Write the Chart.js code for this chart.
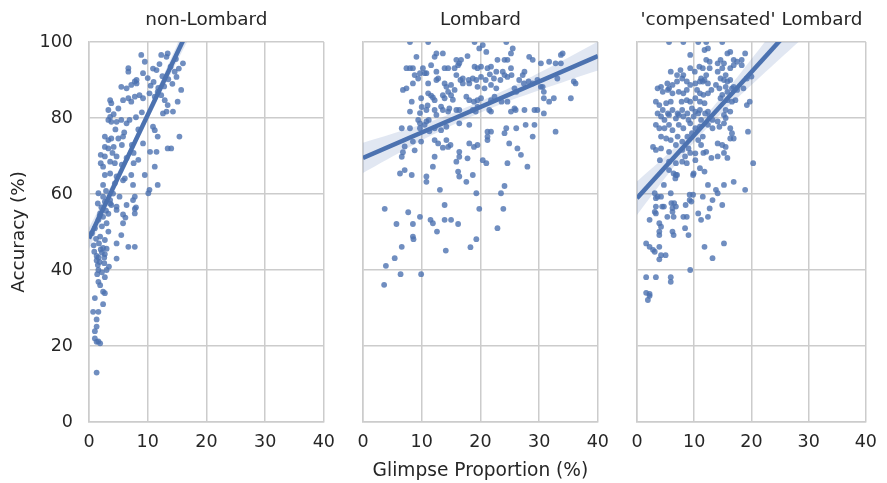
<!DOCTYPE html>
<html>
<head>
<meta charset="utf-8">
<script src="https://cdn.jsdelivr.net/npm/chart.js@4.4.1/dist/chart.umd.min.js"></script>
<style>
  body { margin: 0; background: #fff; width: 887px; height: 483px; position: relative; overflow: hidden; }
  canvas { position: absolute; top: 0; }
</style>
</head>
<body>
<canvas id="c1" width="345" height="483" style="left:0px"></canvas>
<canvas id="c2" width="276" height="483" style="left:343px"></canvas>
<canvas id="c3" width="270" height="483" style="left:617px"></canvas>
<script>
// panel titles and tick values
const panelTitles = ["non-Lombard", "Lombard", "'compensated' Lombard"];
const xTicks = [0, 10, 20, 30, 40];
const yTicks = [0, 20, 40, 60, 80, 100];

// glimpse proportion (%) , accuracy (%) per listener/sentence
const nonLombard = [
  [8.9,96.6],[9.5,94.8],[12.3,96.6],[13.2,96.1],[13.4,97],[16.0,94.4],[6.7,93.1],[6.7,92.2],[10.9,93],[11.5,92.6],
  [14.6,92.2],[9.2,91.8],[10.0,90.5],[11.0,89.5],[12.5,91],[13.5,90.2],[14.2,89],[7.8,89.6],[8.1,90.0],[5.5,88.2],
  [6.4,87.8],[7.2,88.7],[8.1,89.1],[10.5,88.5],[11.8,87.9],[12.8,88.3],[15.7,87.4],[3.6,84.7],[3.8,83.9],[5.8,84.7],
  [6.7,85.2],[7.2,84.3],[7.8,85.6],[8.6,86],[9.2,85.2],[10.3,86.5],[11.2,85.6],[11.7,86.9],[12.3,86],[12.9,84.7],
  [13.4,83.4],[14.3,81.7],[15.1,84.3],[3.3,82.1],[3.6,80.3],[3.3,79.5],[3.8,79],[4.7,79],[5.5,79.5],[6.4,78.6],
  [6.9,79.5],[4.2,81],[5.0,82.5],[8.0,80.2],[9.0,81.5],[4.5,77],[6.0,76.2],[8.4,77],[10.9,77.7],[11.2,76.8],
  [12.6,81.2],[13.2,81.7],[15.4,75.1],[11.7,75.1],[2.7,75.1],[3.3,74.2],[3.8,74.6],[5.0,74.6],[5.8,75.1],[2.7,72.4],
  [3.3,72],[4.2,72.4],[5.6,72.9],[7.3,72.9],[9.2,73.3],[2.0,70.3],[2.7,69.9],[4.0,70.8],[4.7,69.9],[6.4,69.5],
  [7.6,70.8],[10.4,71.1],[11.5,71.1],[13.4,72],[14.0,72],[2.0,68.1],[2.4,67.2],[3.6,68.5],[4.4,68.1],[5.6,67.7],
  [7.6,68.1],[8.4,69],[11.2,67.2],[2.7,65],[3.6,65.4],[4.7,64.6],[6.1,64.1],[7.2,65],[9.5,65],[2.4,62.4],
  [4.4,62.8],[5.8,63.6],[7.5,62.4],[11.7,62.4],[10.1,60.2],[10.3,61.1],[1.6,60.2],[2.4,59.3],[3.6,58.4],[3.8,57.1],
  [5.2,59.3],[6.4,57.1],[7.8,59.3],[8.0,56.5],[2.1,56.5],[2.9,55.6],[3.3,54.8],[4.7,55.8],[5.8,54.6],[7.8,56.1],
  [1.5,57.5],[1.8,54.2],[6.2,53.8],[2.7,58],[3.6,57.5],[4.7,56.7],[7.5,58.4],[1.9,54.9],[1.6,53.2],[2.4,54],
  [3.0,52.3],[3.3,50.1],[7.8,54.9],[5.8,52.3],[0.5,49.7],[1.0,51],[1.9,48.8],[5.5,49.2],[2.7,47.9],[4.7,47],
  [6.7,46.1],[7.8,46.1],[1.7,47],[2.0,45.4],[2.2,44.6],[2.4,45.8],[2.7,44.2],[3.0,45.6],[1.3,43.7],[1.6,43.3],
  [2.6,43.3],[1.3,42.5],[1.8,42.1],[4.7,43],[1.5,41.3],[2.6,41.8],[3.4,40.9],[3.0,40],[1.6,40],[2.7,38.1],
  [1.6,36.9],[1.9,36],[2.4,34.3],[2.7,33.9],[1.0,32.6],[2.4,31],[0.7,29],[1.6,29],[1.3,27],[1.3,25.1],
  [1.0,23.9],[1.0,22],[1.3,21.1],[1.9,20.7],[1.6,21.2],[1.3,13],[14.8,95.5],[15.3,93],[12.0,94.2],[13.9,93.5],
  [14.9,90.8],[0.8,46.5],[1.2,48.2],[0.9,44.8],[2.2,51.5],[2.9,60.8],[4.1,60.1],[1.4,38.9],[2.2,39.4]
];

const lombard = [
  [8.0,100],[11.1,100],[19.0,100],[24.4,100],[20.4,99.2],[19.8,98.3],[21.0,97.4],[25.5,98.3],[25.2,97],[12.5,97],
  [13.6,97],[12.2,96.1],[9.1,96.1],[17.8,96.3],[15.9,95.3],[16.7,95.3],[16.4,94.4],[22.9,95.3],[24.1,95.3],[24.6,95.3],
  [28.3,96.1],[28.9,95.3],[30.3,94.4],[31.7,94.8],[32.8,94.4],[33.7,94.4],[33.7,96.6],[34.0,97],[7.4,93.1],[8.0,93.1],
  [8.5,93.1],[10.2,93.1],[10.8,91.8],[11.6,93.9],[13.9,93.1],[14.5,93.1],[15.6,93.1],[16.2,93.9],[19.0,93.5],[19.5,93.1],
  [20.1,93.5],[21.2,93.1],[21.8,93.5],[22.7,92.2],[23.8,92.2],[25.2,93.1],[27.5,92.2],[27.2,91.3],[8.8,91.3],[9.7,91.8],
  [10.5,91.8],[9.4,90.4],[12.5,92.2],[12.8,90.4],[15.9,91.3],[16.6,90],[17.0,90.4],[18.0,90],[18.7,90.4],[19.3,90],
  [20.1,90.8],[20.9,90],[21.6,91.5],[22.3,90.4],[23.4,90],[24.1,91.3],[24.6,90.8],[25.3,91.3],[26.6,90],[27.4,89.1],
  [28.2,89.6],[28.9,89.1],[29.7,90],[30.3,88.2],[33.1,90.4],[35.9,89.6],[36.2,89.1],[6.8,87.4],[7.4,87.8],[8.5,89.1],
  [11.1,89.1],[12.5,90],[13.9,89.1],[14.2,88.2],[15.0,88.7],[17.0,89.1],[18.1,89.1],[19.5,88.2],[20.7,87.8],[21.8,88.7],
  [22.7,87.8],[25.8,87.8],[26.1,86.9],[30.6,88.2],[30.8,86.9],[11.1,86.5],[11.6,85.9],[11.9,85.4],[12.2,84.7],[13.6,86],
  [13.9,85.2],[14.5,86.9],[15.0,86],[15.6,87.4],[15.3,84.8],[8.3,84.3],[9.9,85.2],[17.6,85.6],[18.1,84.7],[18.9,84.3],
  [19.5,84.7],[20.1,85.2],[21.8,84.7],[22.4,85.6],[23.6,84.3],[24.6,84.3],[30.8,85.2],[31.7,84.3],[32.5,85.2],[35.4,85.2],
  [8.0,81.7],[9.7,81.3],[10.0,82.9],[10.8,82.1],[11.0,83.3],[12.2,82.1],[12.5,80.8],[13.3,83],[13.6,82.1],[14.5,81.7],
  [14.7,82.5],[15.9,82.1],[16.4,82.1],[18.7,82.1],[19.2,81.7],[19.5,82.9],[21.5,82.1],[21.8,81.7],[25.2,81.7],[25.8,82.5],
  [26.0,82.1],[27.5,82.1],[29.2,82.1],[29.7,82.1],[30.8,81.2],[9.4,79.5],[9.7,78.6],[10.8,79.1],[11.2,79.5],[6.6,77.3],
  [8.0,77.3],[9.7,77.3],[10.5,78.2],[11.3,76.5],[12.2,77.3],[13.3,76.8],[14.2,77.7],[16.4,78.6],[18.1,78.2],[21.2,76.4],
  [21.8,76.4],[21.2,75.1],[21.2,74.2],[24.1,76],[24.4,77.3],[26.1,77.3],[27.7,78.2],[29.2,78.2],[28.9,75.1],[32.8,76.4],
  [7.1,72.5],[6.8,71],[8.5,73.8],[8.8,71.5],[9.9,73.8],[12.2,74.2],[12.8,73.3],[13.6,72.2],[14.2,74.2],[14.5,72.4],
  [14.9,72.9],[16.4,71.1],[18.1,73.3],[18.9,72.4],[19.5,72.9],[24.9,73.3],[26.3,72],[26.9,70.3],[6.6,69.8],[12.2,69.8],
  [15.9,68.5],[16.4,69.8],[17.8,69.4],[20.4,68.9],[21.0,68.1],[24.6,68.1],[28.0,67.2],[11.9,67.2],[6.3,65.4],[7.1,66.3],
  [8.3,65],[10.8,64.6],[16.2,65.9],[16.4,64.6],[18.7,65],[17.6,63.2],[10.8,63.2],[13.1,61.1],[24.1,62.1],[19.3,60.2],
  [23.5,60.2],[3.7,56.1],[7.7,55.2],[9.7,54],[13.9,57.1],[19.8,56.1],[23.9,56.1],[5.7,52.1],[8.5,52.1],[11.5,53.2],
  [11.9,52.3],[13.9,53.2],[15.0,53.2],[16.2,52.1],[22.9,51],[12.6,50.1],[8.5,48.8],[8.6,48.1],[19.3,48.1],[6.6,46.1],
  [18.3,46],[14.1,45.1],[5.4,43.1],[3.9,41.1],[6.4,38.9],[9.9,38.9],[3.6,36.1]
];

const compLombard = [
  [5.6,100],[8.1,100],[10.7,100],[12.1,100],[14.9,100],[12.4,98.3],[11.8,97.9],[9.3,96.6],[15.8,97],[16.3,97.4],
  [18.9,97],[14.6,95.3],[15.2,94.4],[14.1,94.4],[12.1,95.3],[12.7,94.8],[16.9,95.3],[17.5,94.8],[18.3,95.3],[9.3,93.1],
  [10.1,92.2],[10.9,93.5],[11.5,93.1],[12.7,93.1],[5.9,92.2],[7.0,91.3],[7.6,92.6],[8.1,91.3],[14.1,92.2],[14.9,93.1],
  [15.5,91.3],[16.3,93.1],[16.9,93.9],[18.3,93.9],[5.3,89.1],[6.2,88.7],[7.0,89.6],[7.9,90.4],[8.7,89.6],[11.2,90.4],
  [11.5,89.6],[11.8,90],[12.4,89.1],[12.1,91.3],[14.6,90.4],[15.2,90],[15.8,89.6],[16.3,90],[19.2,90.4],[20.0,90.9],
  [4.2,88.2],[3.6,87.8],[5.6,87.8],[9.3,88.7],[10.2,89.1],[11.0,89.6],[13.8,88.7],[14.4,87.8],[15.5,88.2],[16.9,88.2],
  [4.5,86.9],[5.4,87.4],[6.2,86.5],[7.3,86.9],[8.1,86.5],[8.7,87.4],[10.5,87.4],[11.0,86.5],[11.6,86.1],[12.4,86.5],
  [13.0,87.4],[14.9,86.1],[15.8,86.9],[16.6,87.8],[17.5,87.4],[18.6,87.8],[3.3,84.3],[3.9,83.4],[5.1,83.9],[5.9,84.3],
  [7.8,84.3],[8.7,84.7],[9.3,84.3],[10.2,85.2],[11.0,84.3],[11.8,83.9],[14.6,85.2],[15.8,84.7],[16.6,84.3],[17.2,84.7],
  [19.2,83.4],[19.7,84.3],[3.6,81.2],[4.5,82.1],[5.4,81.2],[6.2,82.1],[7.1,81.2],[7.9,82.1],[8.8,81.2],[9.6,82.5],
  [10.2,81.7],[11.0,82.1],[11.9,81.2],[12.4,81.7],[15.5,82.1],[16.3,81.7],[4.2,80.4],[4.8,79.5],[5.6,80.8],[6.8,79.9],
  [7.3,80.8],[8.1,80.4],[9.0,79.5],[9.9,80.4],[10.7,81.2],[11.2,79.5],[12.7,80.4],[13.2,79.5],[14.1,79.1],[15.2,80.8],
  [15.5,80],[3.3,78.2],[3.9,77.3],[4.8,77.3],[5.6,78.2],[6.2,76.8],[7.3,78.2],[8.1,77.3],[9.3,78.6],[10.2,77.3],
  [11.0,77.7],[12.4,78.2],[13.2,77.3],[14.4,77.7],[15.2,78.6],[16.3,77.3],[16.6,76],[16.9,74.6],[19.4,76.4],[4.2,75.1],
  [5.1,74.6],[5.9,74.2],[7.1,75.1],[7.9,73.8],[8.8,75.1],[9.6,76],[10.7,74.2],[11.5,75.1],[14.1,73.3],[14.9,72.9],
  [15.5,72.4],[16.3,74.6],[2.8,72.4],[3.3,71.6],[4.2,72],[5.6,71.1],[6.8,72.9],[7.9,71.6],[9.0,72],[10.2,70.7],
  [11.2,72.9],[12.1,71.1],[8.4,69.9],[9.3,70.8],[10.2,68.9],[11.6,70.8],[13.0,69.5],[14.1,69.9],[15.2,70.8],[15.8,69.5],
  [20.3,68.1],[4.0,68.9],[5.6,68.5],[6.8,68.1],[7.9,68.5],[5.6,66.3],[6.8,65],[8.7,68.1],[9.9,65.4],[11.0,66.8],
  [6.4,65.4],[7.0,65],[6.7,64.1],[9.8,65],[11.8,65.9],[4.7,62.4],[5.9,60.2],[12.4,62.4],[13.8,61.1],[15.2,62.4],
  [16.9,63.2],[18.9,61.1],[14.1,60.2],[3.1,60.2],[3.6,59.3],[3.3,58.9],[4.2,59.3],[6.0,57.6],[6.5,57.6],[6.2,56.3],
  [6.8,56.7],[3.3,56.7],[4.4,56.7],[4.7,56.7],[8.5,57.1],[9.2,58.4],[9.5,58],[9.8,59.8],[9.2,59.8],[11.5,59.3],
  [13.2,58.4],[12.7,56.2],[14.9,57.1],[3.3,54.9],[3.1,55.3],[6.2,55.3],[6.4,54],[5.3,54],[8.1,54],[8.7,54],
  [10.7,54.9],[11.2,53.2],[12.4,54],[2.2,53.2],[3.9,52.3],[4.2,51.4],[3.9,50.1],[3.9,49.2],[6.2,50.1],[6.4,49.2],
  [8.4,51],[9.0,49.2],[1.6,47],[2.2,46.1],[2.8,45.3],[3.1,44.8],[3.9,46.1],[4.2,43.9],[3.9,42.8],[5.0,43.9],
  [11.8,46.1],[15.2,47],[13.2,43.1],[9.3,40],[1.6,38.1],[3.3,38.1],[5.9,38.1],[5.9,36.9],[1.6,34],[2.2,33.7],
  [2.2,33.2],[1.9,32.1]
];

// regression lines (value at x = 0 and x = 40) and confidence band
const fitX = [0, 40];
const nonLombardFit = [48.3, 178.3];
const lombardFit = [69.5, 96.3];
const compLombardFit = [58.9, 125.3];

const bandX = [0, 5, 10, 15, 20, 25, 30, 35, 40];
const nonLombardLo = [45.5, 63.1, 79.5, 94.9, 109.8, 124.5, 139, 153.5, 168];
const nonLombardHi = [51.1, 66.0, 82.1, 99.3, 116.8, 134, 151, 168, 185];
const lombardLo = [65.5, 69.85, 74.1, 77.95, 81.4, 84.55, 87.3, 89.95, 92.5];
const lombardHi = [73.5, 75.85, 78.3, 81.15, 84.4, 87.95, 91.9, 95.95, 100.1];
const compLombardLo = [54.5, 64.4, 73.7, 81.6, 88.7, 95.6, 102.4, 109, 115.6];
const compLombardHi = [63.3, 70.0, 77.3, 86.0, 95.5, 105.2, 115, 125, 135];

const blue = "#4c72b0";
const ink = "#262626";
const gridCol = "#cccccc";
const fontFamily = "'DejaVu Sans', sans-serif";

function xy(xs, ys) {
  return xs.map((x, i) => ({ x: x, y: ys[i] }));
}

// facet title, centred over the plot area (not the canvas) like seaborn does
const facetTitle = {
  id: "facetTitle",
  afterDraw(chart, args, opts) {
    const ctx = chart.ctx;
    const area = chart.chartArea;
    ctx.save();
    ctx.font = "18.4px " + fontFamily;
    ctx.fillStyle = ink;
    ctx.textAlign = "center";
    ctx.textBaseline = "middle";
    ctx.fillText(opts.text, (area.left + area.right) / 2, 20);
    ctx.restore();
  }
};

function panel(id, title, pts, fit, lo, hi, cfg) {
  const ctx = document.getElementById(id);
  return new Chart(ctx, {
    type: "scatter",
    plugins: [facetTitle],
    data: {
      datasets: [
        { type: "line", data: xy(fitX, fit), borderColor: blue, borderWidth: 4.5,
          pointRadius: 0, clip: 0, order: 0 },
        { type: "line", data: xy(bandX, hi), borderWidth: 0, pointRadius: 0, tension: 0.3,
          fill: "+1", backgroundColor: "rgba(76,114,176,0.17)", clip: 0, order: 1 },
        { type: "line", data: xy(bandX, lo), borderWidth: 0, pointRadius: 0, tension: 0.3,
          fill: false, clip: 0, order: 1 },
        { data: pts.map(p => ({ x: p[0], y: p[1] })), pointRadius: 2.9, pointHoverRadius: 2.9,
          backgroundColor: "rgba(76,114,176,0.8)", borderWidth: 0, clip: 0, order: 2 }
      ]
    },
    options: {
      responsive: false,
      animation: false,
      events: [],
      layout: { padding: { left: cfg.padL, right: cfg.padR, top: 42, bottom: 0 } },
      plugins: {
        legend: { display: false },
        tooltip: { enabled: false },
        title: { display: false },
        facetTitle: { text: title }
      },
      scales: {
        x: {
          type: "linear", min: 0, max: 40,
          afterBuildTicks: s => { s.ticks = xTicks.map(v => ({ value: v })); },
          afterFit: s => { s.height = 61; },
          ticks: { color: ink, font: { family: fontFamily, size: 17.5 }, padding: 10 },
          grid: { color: gridCol, lineWidth: 1.5, drawTicks: false },
          border: { color: gridCol, width: 1.5 },
          title: { display: cfg.xTitle, text: "Glimpse Proportion (%)", color: ink,
            font: { family: fontFamily, size: 18.6 }, padding: { top: 4, bottom: 1 } }
        },
        y: {
          min: 0, max: 100,
          afterBuildTicks: s => { s.ticks = yTicks.map(v => ({ value: v })); },
          afterFit: s => { s.width = cfg.yWidth; },
          ticks: { display: cfg.yLabels, color: ink, font: { family: fontFamily, size: 17.5 }, padding: 16 },
          grid: { color: gridCol, lineWidth: 1.5, drawTicks: false },
          border: { color: gridCol, width: 1.5 },
          title: { display: cfg.yLabels, text: "Accuracy (%)", color: ink,
            font: { family: fontFamily, size: 18.4 }, padding: { top: 8, bottom: 4 } }
        }
      }
    }
  });
}

panel("c1", panelTitles[0], nonLombard, nonLombardFit, nonLombardLo, nonLombardHi,
  { padL: 0, padR: 20, yWidth: 89, yLabels: true, xTitle: false });
panel("c2", panelTitles[1], lombard, lombardFit, lombardLo, lombardHi,
  { padL: 20, padR: 20, yWidth: 0, yLabels: false, xTitle: true });
panel("c3", panelTitles[2], compLombard, compLombardFit, compLombardLo, compLombardHi,
  { padL: 20, padR: 14, yWidth: 0, yLabels: false, xTitle: false });
</script>
</body>
</html>
